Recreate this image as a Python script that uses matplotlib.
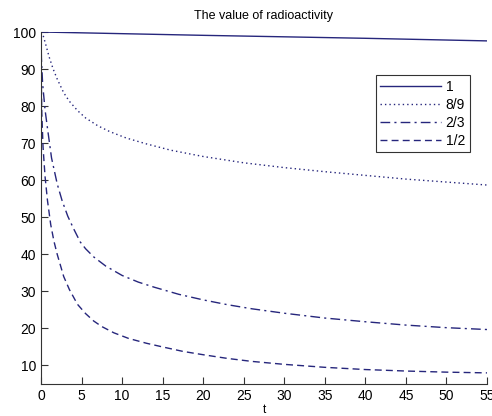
import matplotlib
matplotlib.use("Agg")
import matplotlib.pyplot as plt

plt.rcParams['font.family'] = ['Liberation Sans', 'DejaVu Sans']

# data
t_one = [0, 20, 40, 55]
v_one = [100, 99.1, 98.3, 97.6]

t_89 = [0, 0.1, 0.3, 0.6, 1.0, 1.5, 2.0, 2.8, 3.5, 4.5, 5.5, 7, 8.5, 10.5, 13, 16, 20, 25, 30, 35, 40, 45, 50, 55]
v_89 = [100, 99.6, 98.8, 96.5, 93.3, 90, 87.3, 83.6, 81.3, 78.8, 76.8, 74.7, 73.1, 71.4, 69.8, 68.1, 66.4, 64.7, 63.4, 62.3, 61.3, 60.3, 59.5, 58.7]

t_23 = [0, 0.05, 0.2, 0.5, 0.8, 1.3, 2.0, 2.6, 3.3, 4.0, 4.85, 5.5, 6.5, 8, 10, 12, 14, 17, 20, 23, 26, 30, 35, 40, 45, 50, 55]
v_23 = [100, 93, 86, 79, 74, 66, 59, 54.5, 50.3, 47, 43.3, 41.5, 39.3, 36.8, 34.3, 32.5, 31.1, 29.2, 27.7, 26.4, 25.3, 24.1, 22.8, 21.8, 20.9, 20.2, 19.7]

t_12 = [0, 0.03, 0.1, 0.25, 0.5, 0.8, 1.2, 1.6, 2.0, 2.8, 3.5, 4.5, 5.5, 6.5, 7.5, 9, 10.8, 13, 15, 17.5, 20, 23, 26, 30, 35, 40, 45, 50, 55]
v_12 = [100, 87, 78, 69, 61, 54.5, 48, 43.5, 40, 34, 30.5, 26.5, 24, 22, 20.5, 18.8, 17.3, 16, 15, 13.8, 12.9, 11.9, 11.1, 10.3, 9.5, 8.9, 8.5, 8.2, 8.0]

labels = ['1', '8/9', '2/3', '1/2']
title = 'The value of radioactivity'
xticks = list(range(0, 56, 5))
yticks = list(range(10, 101, 10))

color = '#26267c'

fig = plt.figure(figsize=(4.92, 4.16), dpi=100)
ax = fig.add_axes([41/492, 1-384/416, (487-41)/492, (384-32)/416])

ax.plot(t_one, v_one, '-', color=color, lw=1, label=labels[0])
ax.plot(t_89, v_89, ':', color=color, lw=1, label=labels[1], dashes=[1, 2.2])
ax.plot(t_23, v_23, '-.', color=color, lw=1, label=labels[2], dashes=[7, 3, 1.5, 3])
ax.plot(t_12, v_12, '--', color=color, lw=1, label=labels[3], dashes=[5, 3])

ax.set_xlim(0, 55)
ax.set_ylim(5, 100)
ax.set_xticks(xticks)
ax.set_yticks(yticks)
ax.tick_params(direction='in', length=5, labelsize=10, width=0.8, colors='#333333', labelcolor='black')
for s in ['top', 'right']:
    ax.spines[s].set_visible(False)
for s in ['left', 'bottom']:
    ax.spines[s].set_color('#333333')
    ax.spines[s].set_linewidth(0.8)

ax.set_title(title, fontsize=9, pad=9)
ax.set_xlabel('t', fontsize=8.5, labelpad=1)

leg = ax.legend(loc='upper right', fontsize=10, frameon=True, fancybox=False,
                handlelength=4.4, handletextpad=0.3, labelspacing=0.28, borderpad=0.35,
                borderaxespad=0)
leg.get_frame().set_edgecolor('black')
leg.get_frame().set_linewidth(0.8)
leg.set_bbox_to_anchor((470/492, 1-75/416), transform=fig.transFigure)

fig.savefig('out.png', dpi=100)
